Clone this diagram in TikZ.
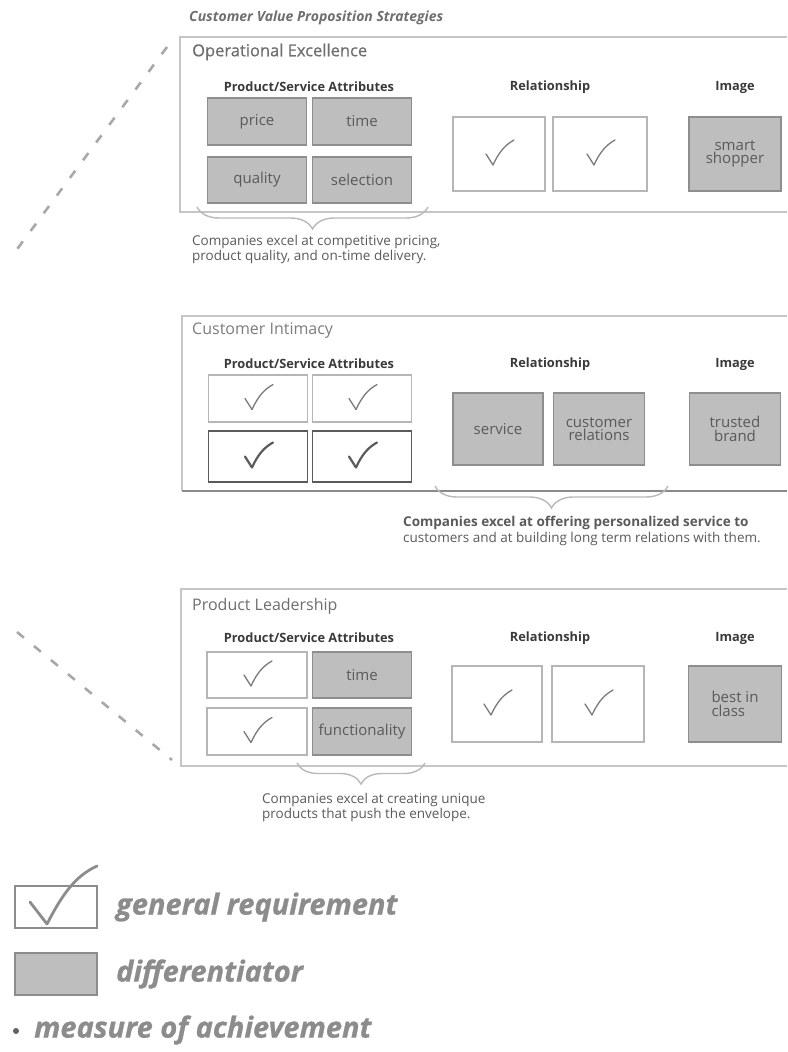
\documentclass[tikz,border=0pt]{standalone}
\usepackage{fontspec}
\setmainfont{Open Sans}
\usetikzlibrary{decorations.pathreplacing}

\definecolor{panelline}{HTML}{C6C6C6}
\definecolor{paneldark}{HTML}{8A8A8A}
\definecolor{boxfill}{HTML}{BEBEBE}
\definecolor{boxedge}{HTML}{8E8E8E}
\definecolor{reqedge}{HTML}{B6B6B6}
\definecolor{keyedge}{HTML}{5A5A5A}
\definecolor{tickgray}{HTML}{7A7A7A}
\definecolor{titlegray}{HTML}{6E6E6E}
\definecolor{labelgray}{HTML}{3A3A3A}
\definecolor{textgray}{HTML}{5A5A5A}
\definecolor{legendgray}{HTML}{8C8C8C}
\definecolor{dashgray}{HTML}{A8A8A8}

\begin{document}
\begin{tikzpicture}[x=1pt,y=-1pt,
  panelframe/.style={draw=panelline, line width=1.5pt},
  diffbox/.style={draw=boxedge, fill=boxfill, line width=1.6pt, inner sep=0pt,
    align=center, text=textgray, font=\fontsize{15}{15.5}\selectfont},
  reqbox/.style={draw=reqedge, fill=white, line width=1.2pt, inner sep=0pt},
  keybox/.style={draw=keyedge, fill=white, line width=1.6pt, inner sep=0pt},
  paneltitle/.style={anchor=west, inner sep=0pt, text=titlegray, font=\fontsize{16}{18}\selectfont},
  collabel/.style={inner sep=0pt, text=labelgray, font=\bfseries\fontsize{12.8}{14}\selectfont},
  note/.style={anchor=north west, inner sep=0pt, align=left, text=textgray,
    font=\fontsize{13.5}{15.5}\selectfont},
  bracket/.style={draw=gray!55, line width=1.4pt, decorate,
    decoration={brace, mirror, amplitude=#1}},
  guide/.style={draw=dashgray, line width=2.6pt, dash pattern=on 9pt off 13pt},
  legendtext/.style={anchor=west, inner sep=0pt, text=legendgray,
    font=\bfseries\itshape\fontsize{29}{31}\selectfont\addfontfeature{FakeBold=0.8}},
  tick/.pic={\draw[tickgray, line width=1.3pt, line cap=round, line join=round]
    (-13,0) -- (-6,11) .. controls (0,-2) and (6,-9) .. (15,-14);},
  heavytick/.pic={\draw[keyedge, line width=2.2pt, line cap=round, line join=round]
    (-13,0) -- (-6,11) .. controls (0,-2) and (6,-9) .. (15,-14);}
]
\useasboundingbox (0,0) rectangle (787,1052);

% heading
\node[anchor=west, inner sep=0pt, text=titlegray,
  font=\bfseries\itshape\fontsize{14}{16}\selectfont] (heading) at (189,18)
  {Customer Value Proposition Strategies};

% ---------------- Operational Excellence ----------------
\coordinate (oe-tr) at (787,37);
\coordinate (oe-tl) at (180,37);
\coordinate (oe-bl) at (180,212);
\coordinate (oe-br) at (787,212);
\draw[panelframe] (oe-tr) -- (oe-tl) -- (oe-bl) -- (oe-br);
\node[paneltitle, font=\fontsize{16.5}{18}\selectfont\addfontfeature{FakeBold=0.6}] (oe-title) at (192,52) {Operational Excellence};
\node[collabel] (oe-psa) at (309,87) {Product/Service Attributes};
\node[collabel] (oe-rel) at (550,87) {Relationship};
\node[collabel] (oe-img) at (735,87) {Image};
\node[diffbox, minimum width=99, minimum height=47] (oe-price) at (257,121.5) {price};
\node[diffbox, minimum width=99, minimum height=47] (oe-time) at (362,121.5) {time};
\node[diffbox, minimum width=99, minimum height=46] (oe-quality) at (257,180) {quality};
\node[diffbox, minimum width=99, minimum height=46] (oe-selection) at (362,180) {selection};
\node[reqbox, minimum width=92, minimum height=74] (oe-rel1) at (499,154) {};
\node[reqbox, minimum width=94, minimum height=74] (oe-rel2) at (600,154) {};
\pic at (oe-rel1.center) {tick};
\pic at (oe-rel2.center) {tick};
\node[diffbox, minimum width=92, minimum height=74] (oe-image) at (735,154) {smart\\[-2pt]shopper};
\coordinate (oe-b1) at (197,207);
\coordinate (oe-b2) at (428,207);
\draw[bracket=22] (oe-b1) -- (oe-b2);
\node[note] (oe-note) at (192,235)
  {Companies excel at competitive pricing,\\product quality, and on-time delivery.};
\coordinate (oe-g1) at (167,47);
\coordinate (oe-g2) at (15,252);
\draw[guide] (oe-g1) -- (oe-g2);

% ---------------- Customer Intimacy ----------------
\coordinate (ci-tr) at (787,316);
\coordinate (ci-tl) at (182,316);
\coordinate (ci-bl) at (182,491);
\coordinate (ci-br) at (787,491);
\draw[panelframe] (ci-tr) -- (ci-tl) -- (ci-bl);
\draw[draw=paneldark, line width=1.8pt] (ci-bl) -- (ci-br);
\node[paneltitle, text=titlegray!90] (ci-title) at (192,331) {Customer Intimacy};
\node[collabel] (ci-psa) at (309,364) {Product/Service Attributes};
\node[collabel] (ci-rel) at (550,364) {Relationship};
\node[collabel] (ci-img) at (735,364) {Image};
\node[reqbox, minimum width=99, minimum height=47] (ci-a1) at (258,398.5) {};
\node[reqbox, minimum width=99, minimum height=47] (ci-a2) at (362,398.5) {};
\node[keybox, minimum width=99, minimum height=51] (ci-a3) at (258,456.5) {};
\node[keybox, minimum width=99, minimum height=51] (ci-a4) at (362,456.5) {};
\pic at (ci-a1.center) {tick};
\pic at (ci-a2.center) {tick};
\pic at (ci-a3.center) {heavytick};
\pic at (ci-a4.center) {heavytick};
\node[diffbox, minimum width=90, minimum height=72] (ci-service) at (498,429) {service};
\node[diffbox, minimum width=91, minimum height=72] (ci-relations) at (599,429) {customer\\[-2pt]relations};
\node[diffbox, minimum width=91, minimum height=72] (ci-image) at (735,429) {trusted\\[-2pt]brand};
\coordinate (ci-b1) at (435,486);
\coordinate (ci-b2) at (668,486);
\draw[bracket=22] (ci-b1) -- (ci-b2);
\node[note, font=\fontsize{13.5}{16}\selectfont] (ci-note) at (403,516)
  {{\bfseries Companies excel at offering personalized service to}\\customers and at building long term relations with them.};

% ---------------- Product Leadership ----------------
\coordinate (pl-tr) at (787,589);
\coordinate (pl-tl) at (181,589);
\coordinate (pl-bl) at (181,766);
\coordinate (pl-br) at (787,766);
\draw[panelframe] (pl-tr) -- (pl-tl) -- (pl-bl) -- (pl-br);
\node[paneltitle] (pl-title) at (192,606) {Product Leadership};
\node[collabel] (pl-psa) at (309,638) {Product/Service Attributes};
\node[collabel] (pl-rel) at (550,638) {Relationship};
\node[collabel] (pl-img) at (735,638) {Image};
\node[reqbox, minimum width=100, minimum height=46] (pl-a1) at (257,675) {};
\node[diffbox, minimum width=99, minimum height=46] (pl-time) at (362,675) {time};
\node[reqbox, minimum width=100, minimum height=47] (pl-a3) at (257,731.5) {};
\node[diffbox, minimum width=99, minimum height=47] (pl-function) at (362,731.5) {functionality};
\pic at (pl-a1.center) {tick};
\pic at (pl-a3.center) {tick};
\node[reqbox, minimum width=90, minimum height=76] (pl-rel1) at (497,704) {};
\node[reqbox, minimum width=92, minimum height=76] (pl-rel2) at (598,704) {};
\pic at (pl-rel1.center) {tick};
\pic at (pl-rel2.center) {tick};
\node[diffbox, minimum width=93, minimum height=76, align=left] (pl-image) at (735,704) {best in\\[-2pt]class};
\coordinate (pl-b1) at (297,763);
\coordinate (pl-b2) at (425,763);
\draw[bracket=21] (pl-b1) -- (pl-b2);
\node[note] (pl-note) at (262,793)
  {Companies excel at creating unique\\products that push the envelope.};
\coordinate (pl-g1) at (17,632);
\coordinate (pl-g2) at (172,760);
\draw[guide] (pl-g1) -- (pl-g2);

% ---------------- key ----------------
\node[draw=legendgray, line width=1.8pt, fill=white, inner sep=0pt,
  minimum width=82, minimum height=42] (key-req) at (56,907) {};
\coordinate (key-t1) at (30,902);
\coordinate (key-t2) at (47,924);
\coordinate (key-t3) at (97,866);
\draw[legendgray, line width=2.8pt, line cap=round, line join=round]
  (key-t1) -- (key-t2) .. controls (62,895) and (75,876) .. (key-t3);
\node[legendtext] (key-req-text) at (116,907) {general requirement};
\node[draw=legendgray, line width=1.8pt, fill=boxfill, inner sep=0pt,
  minimum width=82, minimum height=42] (key-diff) at (56,974) {};
\node[legendtext] (key-diff-text) at (116,974) {differentiator};
\node[circle, fill=legendgray!70!black, inner sep=0pt, minimum size=6] (key-dot) at (16,1031) {};
\node[legendtext] (key-dot-text) at (34,1030) {measure of achievement};
\end{tikzpicture}
\end{document}
